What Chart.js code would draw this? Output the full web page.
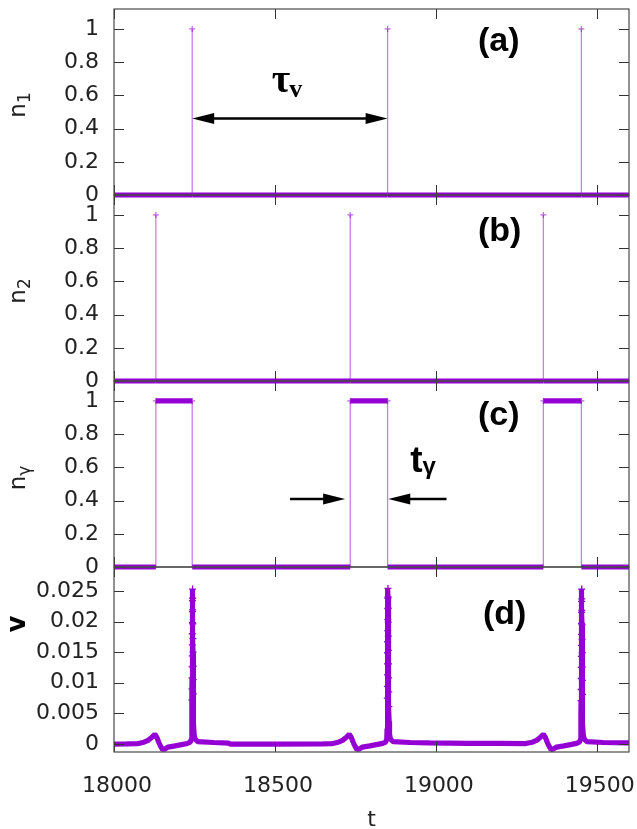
<!DOCTYPE html>
<html>
<head>
<meta charset="utf-8">
<script src="https://cdn.jsdelivr.net/npm/chart.js@4.4.1/dist/chart.umd.min.js"></script>
<style>
  html, body { margin: 0; padding: 0; background: #fff; width: 637px; height: 829px; overflow: hidden; }
  #wrap { position: relative; width: 637px; height: 829px; overflow: hidden; }
  #wrap canvas { position: absolute; left: 0; }
</style>
</head>
<body>
<div id="wrap">
  <canvas id="panelA"></canvas>
  <canvas id="panelB"></canvas>
  <canvas id="panelC"></canvas>
  <canvas id="panelD"></canvas>
</div>
<script>
// ---------------- data ----------------
const T_MIN = 18000, T_MAX = 19600;
const xTickValues = [18000, 18500, 19000, 19500];
const nTickValues = [0, 0.2, 0.4, 0.6, 0.8, 1];
const vTickValues = [0, 0.005, 0.01, 0.015, 0.02, 0.025];

// firing times of unit 1 and unit 2
const n1Times = [18243, 18850, 19452];
const n2Times = [18130, 18734, 19334];

// v(t): slow bump near each n2 firing, sharp peak at each n1 firing
const vTime = [
  18000, 18040, 18072, 18093, 18106, 18118, 18127, 18133, 18139, 18145, 18151, 18158, 18168, 18190, 18210, 18228, 18237,
  18240.5, 18241.3, 18241.8, 18242.1, 18242.3, 18242.5, 18242.7, 18242.9, 18243.1, 18243.3, 18243.5, 18243.7, 18243.9, 18244.1,
  18244.4, 18244.7, 18245.0, 18245.3, 18245.6, 18245.9, 18246.2, 18246.6, 18247.1, 18247.8, 18249, 18252, 18260, 18310, 18356, 18362,
  18500, 18650, 18676, 18697, 18710, 18722, 18731, 18737, 18743, 18749, 18755, 18762, 18772, 18795, 18815, 18835, 18844,
  18847.5, 18848.3, 18848.8, 18849.1, 18849.3, 18849.5, 18849.7, 18849.9, 18850.1, 18850.3, 18850.5, 18850.7, 18850.9, 18851.1,
  18851.4, 18851.7, 18852.0, 18852.3, 18852.6, 18852.9, 18853.2, 18853.6, 18854.1, 18854.8, 18856, 18859, 18867, 18920, 18980, 19100, 19200,
  19279, 19300, 19313, 19325, 19334, 19340, 19346, 19352, 19358, 19365, 19375, 19398, 19418, 19437, 19446,
  19449.5, 19450.3, 19450.8, 19451.1, 19451.3, 19451.5, 19451.7, 19451.9, 19452.1, 19452.3, 19452.5, 19452.7, 19452.9, 19453.1,
  19453.4, 19453.7, 19454.0, 19454.3, 19454.6, 19454.9, 19455.2, 19455.6, 19456.1, 19456.8, 19458, 19461, 19469, 19520, 19600
];
const vValue = [
  0, 0.00002, 0.00005, 0.0003, 0.0006, 0.0011, 0.0016, 0.0011, 0.0003, -0.0004, -0.0009, -0.0008, -0.0005, -0.0003, -0.0001, 0.0001, 0.0003,
  0.0008, 0.0025, 0.0050, 0.0072, 0.0090, 0.0108, 0.0126, 0.0144, 0.0162, 0.0180, 0.0198, 0.0216, 0.0234, 0.0253,
  0.0238, 0.0219, 0.0196, 0.0172, 0.0150, 0.0127, 0.0105, 0.0082, 0.0058, 0.0035, 0.0015, 0.0008, 0.0004, 0.00025, 0.00015, 0,
  0, 0.00002, 0.00005, 0.0003, 0.0006, 0.0011, 0.0016, 0.0011, 0.0003, -0.0004, -0.0009, -0.0008, -0.0005, -0.0003, -0.0001, 0.0001, 0.0003,
  0.0008, 0.0025, 0.0052, 0.0075, 0.0094, 0.0113, 0.0131, 0.0149, 0.0167, 0.0185, 0.0203, 0.0221, 0.0238, 0.0254,
  0.0240, 0.0222, 0.0199, 0.0176, 0.0153, 0.0131, 0.0108, 0.0085, 0.0061, 0.0037, 0.0016, 0.0008, 0.0004, 0.00025, 0.00018, 0.00012, 0.0001,
  0.00008, 0.0003, 0.0006, 0.0011, 0.0016, 0.0011, 0.0003, -0.0004, -0.0009, -0.0008, -0.0005, -0.0003, -0.0001, 0.0001, 0.0003,
  0.0008, 0.0024, 0.0049, 0.0071, 0.0089, 0.0107, 0.0125, 0.0143, 0.0161, 0.0179, 0.0197, 0.0215, 0.0233, 0.0253,
  0.0237, 0.0218, 0.0195, 0.0171, 0.0149, 0.0126, 0.0104, 0.0081, 0.0057, 0.0034, 0.0015, 0.0008, 0.0004, 0.00025, 0.0002
];

// ---------------- styling ----------------
Chart.defaults.font.family = 'DejaVu Sans';
const AXIS_FONT = { family: 'DejaVu Sans', size: 22 };
const INK = '#222';
const PURPLE = '#9400d3';
const PURPLE_THIN = 'rgba(148,0,211,0.5)';
const BAND = 5.2;
const TICK_LEN = 10;
const PAD = 30;
const PLOT_RIGHT = 629;

// step-like series: flat runs are drawn thick, jumps thin
const isFlat = c => c.p0.parsed.y === c.p1.parsed.y;
function stepDataset(points) {
  return {
    data: points,
    borderColor: PURPLE,
    borderWidth: BAND,
    tension: 0,
    clip: false,
    segment: {
      borderWidth: c => isFlat(c) ? BAND : 1.3,
      borderColor: c => isFlat(c) ? PURPLE : PURPLE_THIN
    },
    pointStyle: 'cross',
    pointRadius: c => (c.raw && c.raw.y === 1) ? 3 : 0,
    pointHoverRadius: 0,
    pointBorderColor: 'rgba(148,0,211,0.6)',
    pointBorderWidth: 1.2
  };
}

function spikePoints(times) {
  const pts = [{ x: T_MIN, y: 0 }];
  times.forEach(s => { pts.push({ x: s, y: 0 }, { x: s, y: 1 }, { x: s, y: 0 }); });
  pts.push({ x: T_MAX, y: 0 });
  return pts;
}
function gatePoints(onTimes, offTimes) {
  const pts = [{ x: T_MIN, y: 0 }];
  onTimes.forEach((a, i) => {
    const b = offTimes[i];
    pts.push({ x: a, y: 0 }, { x: a, y: 1 }, { x: b, y: 1 }, { x: b, y: 0 });
  });
  pts.push({ x: T_MAX, y: 0 });
  return pts;
}
const vPoints = vTime.map((t, i) => ({ x: t, y: vValue[i] }));

// ---------------- frame, inward ticks, labels, arrows ----------------
function arrowHead(ctx, tipX, tipY, dir) {
  const L = 22, H = 5.5;
  ctx.beginPath();
  ctx.moveTo(tipX, tipY);
  ctx.lineTo(tipX - dir * L, tipY - H);
  ctx.lineTo(tipX - dir * L, tipY + H);
  ctx.closePath();
  ctx.fill();
}
function drawArrow(ctx, x0, x1, y, both) {
  const dir = Math.sign(x1 - x0);
  ctx.beginPath();
  ctx.moveTo(both ? x0 + dir * 18 : x0, y);
  ctx.lineTo(x1 - dir * 18, y);
  ctx.stroke();
  arrowHead(ctx, x1, y, dir);
  if (both) arrowHead(ctx, x0, y, -dir);
}

const panelDecor = {
  id: 'panelDecor',
  afterDatasetsDraw(chart, args, o) {
    const { ctx, chartArea: a, scales: { x, y } } = chart;
    ctx.save();

    // inward ticks on all four sides
    ctx.strokeStyle = '#333';
    ctx.lineWidth = 1;
    ctx.beginPath();
    y.ticks.forEach(t => {
      const py = Math.round(y.getPixelForValue(t.value)) + 0.5;
      ctx.moveTo(a.left, py); ctx.lineTo(a.left + TICK_LEN, py);
      ctx.moveTo(a.right, py); ctx.lineTo(a.right - TICK_LEN, py);
    });
    xTickValues.forEach(v => {
      const px = Math.round(x.getPixelForValue(v)) + 0.5;
      ctx.moveTo(px, a.top); ctx.lineTo(px, a.top + TICK_LEN);
      ctx.moveTo(px, a.bottom); ctx.lineTo(px, a.bottom - TICK_LEN);
    });
    ctx.stroke();

    // border
    ctx.strokeStyle = '#4a4a4a';
    ctx.lineWidth = 1.2;
    ctx.strokeRect(a.left, a.top, a.right - a.left, a.bottom - a.top);

    // y-axis title, rotated, with optional subscript
    const yt = o.yTitle;
    ctx.save();
    ctx.translate(yt.x, a.top + yt.dy);
    ctx.rotate(-Math.PI / 2);
    ctx.fillStyle = yt.color || INK;
    ctx.textBaseline = 'alphabetic';
    ctx.textAlign = 'left';
    ctx.font = yt.font;
    const wMain = ctx.measureText(yt.text).width;
    let wSub = 0;
    if (yt.sub) { ctx.font = yt.subFont; wSub = ctx.measureText(yt.sub).width; }
    const start = -(wMain + wSub) / 2;
    ctx.font = yt.font;
    ctx.fillText(yt.text, start, 0);
    if (yt.sub) { ctx.font = yt.subFont; ctx.fillText(yt.sub, start + wMain, yt.subShift); }
    ctx.restore();

    // panel tag
    ctx.fillStyle = '#000';
    ctx.font = 'bold 34px "Liberation Sans"';
    ctx.textAlign = 'left';
    ctx.textBaseline = 'middle';
    ctx.fillText(o.tag, o.tagX, a.top + o.tagDy);

    // arrows (data coordinates)
    ctx.strokeStyle = '#000';
    ctx.fillStyle = '#000';
    ctx.lineWidth = 2.5;
    (o.arrows || []).forEach(ar => {
      drawArrow(ctx, x.getPixelForValue(ar.from), x.getPixelForValue(ar.to), y.getPixelForValue(ar.y), ar.both);
    });

    // symbol with subscript (data coordinates of baseline start)
    (o.symbols || []).forEach(s => {
      const px = x.getPixelForValue(s.t), py = y.getPixelForValue(s.y);
      ctx.textAlign = 'left';
      ctx.textBaseline = 'alphabetic';
      ctx.font = s.font;
      ctx.fillText(s.text, px, py);
      const w = ctx.measureText(s.text).width;
      ctx.font = s.subFont;
      ctx.fillText(s.sub, px + w + s.subGap, py + s.subShift);
    });
    ctx.restore();
  }
};

// ---------------- panels ----------------
const fmt = v => String(parseFloat(Number(v).toFixed(4)));

function makePanel(id, spec) {
  const cv = document.getElementById(id);
  const W = spec.showX ? 700 : 637;
  cv.width = W;
  cv.height = spec.canvasH;
  cv.style.top = spec.canvasTop + 'px';
  const xScale = {
    type: 'linear', min: T_MIN, max: T_MAX, display: spec.showX,
    grid: { display: false, drawTicks: false }, border: { display: false },
    afterBuildTicks: s => { s.ticks = xTickValues.map(v => ({ value: v })); },
    ticks: { font: AXIS_FONT, color: INK, padding: 21, labelOffset: 3, autoSkip: false, maxRotation: 0, callback: v => String(v) },
    title: { display: spec.showX, text: 't', font: AXIS_FONT, color: INK, padding: 0 }
  };
  if (spec.showX) xScale.afterFit = s => { s.height = spec.xAxisH; };
  return new Chart(cv, {
    type: 'line',
    data: { datasets: spec.datasets },
    options: {
      responsive: false, animation: false, devicePixelRatio: 1, events: [],
      layout: { padding: { left: 0, right: W - PLOT_RIGHT, top: PAD, bottom: spec.showX ? 0 : PAD } },
      plugins: { legend: { display: false }, tooltip: { enabled: false }, panelDecor: spec.decor },
      scales: {
        x: xScale,
        y: {
          type: 'linear', min: spec.yMin, max: spec.yMax,
          grid: { display: false, drawTicks: false }, border: { display: false },
          afterBuildTicks: s => { s.ticks = spec.yTicks.map(v => ({ value: v })); },
          afterFit: s => { s.width = 114; },
          ticks: { font: AXIS_FONT, color: INK, padding: 15, autoSkip: false, callback: fmt }
        }
      }
    },
    plugins: [panelDecor]
  });
}

const nTitle = (sub, dy) => ({
  x: 25, dy, text: 'n', sub, font: '23px "DejaVu Sans"', subFont: '17px "DejaVu Sans"', subShift: 5
});

makePanel('panelA', {
  canvasTop: 9 - PAD, canvasH: 186 + 2 * PAD, showX: false,
  yMin: 0, yMax: 1.12, yTicks: nTickValues,
  datasets: [stepDataset(spikePoints(n1Times))],
  decor: {
    yTitle: nTitle('1', 96), tag: '(a)', tagX: 478, tagDy: 33,
    arrows: [{ from: n1Times[0], to: n1Times[1], y: 0.46, both: true }],
    symbols: [{ t: 18490, y: 0.62, text: 'τ', font: 'bold 40px "Liberation Serif"', sub: 'v', subFont: 'bold 26px "Liberation Serif"', subGap: -1, subShift: 5 }]
  }
});

makePanel('panelB', {
  canvasTop: 195 - PAD, canvasH: 186 + 2 * PAD, showX: false,
  yMin: 0, yMax: 1.12, yTicks: nTickValues,
  datasets: [stepDataset(spikePoints(n2Times))],
  decor: { yTitle: nTitle('2', 96), tag: '(b)', tagX: 478, tagDy: 37 }
});

makePanel('panelC', {
  canvasTop: 381 - PAD, canvasH: 186 + 2 * PAD, showX: false,
  yMin: 0, yMax: 1.12, yTicks: nTickValues,
  datasets: [stepDataset(gatePoints(n2Times, n1Times))],
  decor: {
    yTitle: nTitle('γ', 97), tag: '(c)', tagX: 478, tagDy: 35,
    arrows: [
      { from: 18547, to: 18718, y: 0.41, both: false },
      { from: 19033, to: 18852, y: 0.41, both: false }
    ],
    symbols: [{ t: 18920, y: 0.572, text: 't', font: 'bold 37px "Liberation Sans"', sub: 'γ', subFont: 'bold 24px "Liberation Sans"', subGap: 0, subShift: 2 }]
  }
});

makePanel('panelD', {
  canvasTop: 567 - PAD, canvasH: 829 + 4 - (567 - PAD), showX: true, xAxisH: 833 - 752,
  yMin: -0.0013, yMax: 0.0289, yTicks: vTickValues,
  datasets: [{
    data: vPoints,
    borderColor: PURPLE, borderWidth: BAND, tension: 0, clip: false, borderJoinStyle: 'bevel',
    pointStyle: 'cross',
    pointRadius: c => (c.raw && c.raw.y > 0.006) ? 3.5 : 0,
    pointHoverRadius: 0,
    pointBorderColor: PURPLE, pointBorderWidth: 1.3
  }],
  decor: {
    yTitle: { x: 25, dy: 57, text: 'v', font: 'bold 26px "DejaVu Sans"', color: '#000' },
    tag: '(d)', tagX: 483, tagDy: 48
  }
});
</script>
</body>
</html>
